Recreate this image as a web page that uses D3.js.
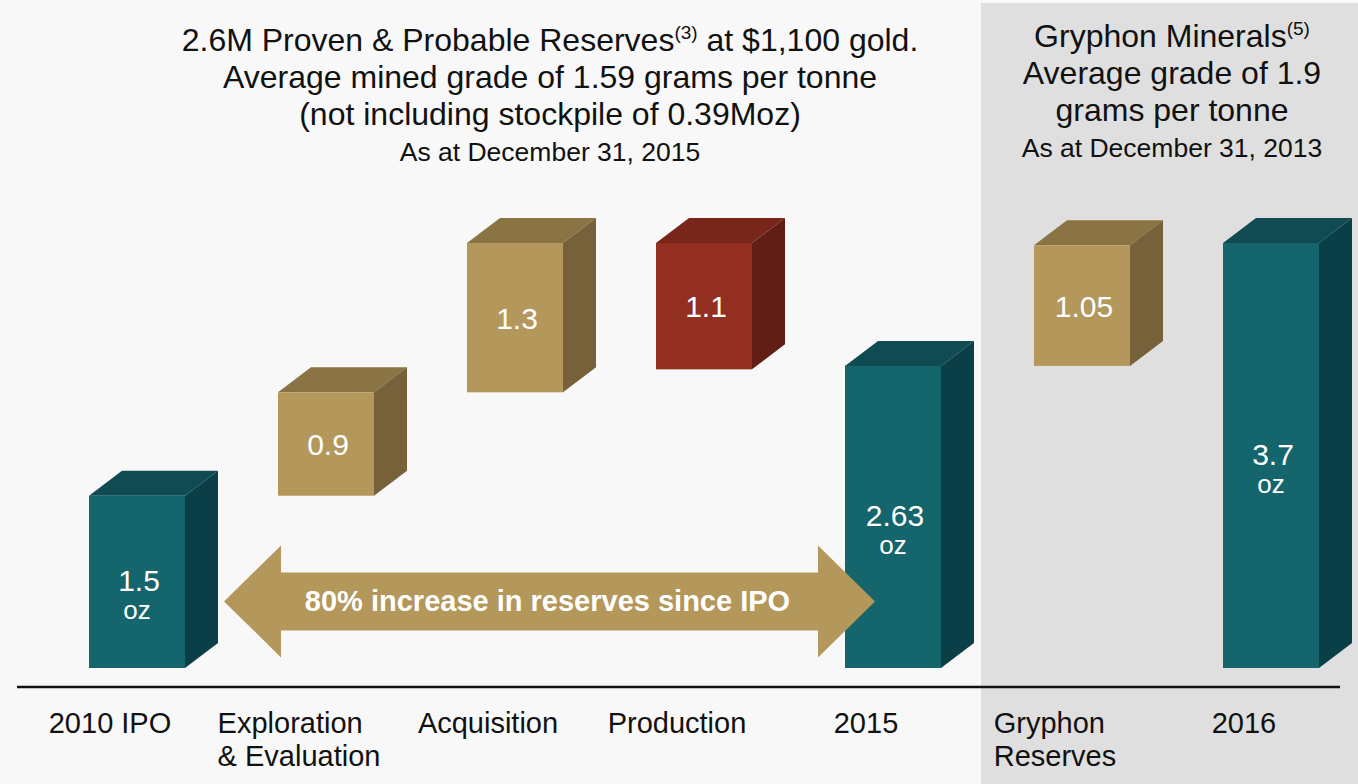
<!DOCTYPE html>
<html>
<head>
<meta charset="utf-8">
<script src="https://cdn.jsdelivr.net/npm/d3@7"></script>
<style>
  body { margin: 0; background: #f8f8f8; }
  svg { display: block; font-family: Arial, "Liberation Sans", sans-serif; }
</style>
</head>
<body>
<svg id="canvas" width="1358" height="784"></svg>
<script>
// chart data
let categories = ["2010 IPO", "Exploration", "Acquisition", "Production", "2015", "Gryphon", "2016"]
let catLabels = [["2010 IPO"], ["Exploration", "& Evaluation"], ["Acquisition"], ["Production"], ["2015"], ["Gryphon", "Reserves"], ["2016"]]
let values = [1.5, 0.9, 1.3, -1.1, 2.63, 1.05, 3.7]
let kinds = ["total", "gain", "gain", "loss", "total", "gain", "total"]
let valueLabels = ["1.5", "0.9", "1.3", "1.1", "2.63", "1.05", "3.7"]
let unitLabels = ["oz", "", "", "", "oz", "", "oz"]

let leftTitle = ["2.6M Proven & Probable Reserves", "Average mined grade of 1.59 grams per tonne", "(not including stockpile of 0.39Moz)", "As at December 31, 2015"]
let rightTitle = ["Gryphon Minerals", "Average grade of 1.9", "grams per tonne", "As at December 31, 2013"]
let arrowText = "80% increase in reserves since IPO"

let colors = {
    total: {front: "#15656d", top: "#104b53", side: "#0b3f48"},
    gain:  {front: "#b4975a", top: "#8a7444", side: "#77613a"},
    loss:  {front: "#922f21", top: "#782619", side: "#611e14"}
}

let canvas = d3.select("#canvas")

// running start / end for the waterfall
let running = 0
let bars = categories.map((c, i) => {
    let v = values[i]
    let start, end
    if (kinds[i] === "total") {
        start = 0
        end = v
    } else {
        start = running
        end = running + v
    }
    running = end
    return {cat: c, kind: kinds[i], lo: Math.min(start, end), hi: Math.max(start, end), label: valueLabels[i], unit: unitLabels[i], lines: catLabels[i]}
})

let x = d3.scaleBand()
    .domain(categories)
    .range([89, 1319])
    .paddingInner(0.492)
    .paddingOuter(0)

let y = d3.scaleLinear()
    .domain([0, 3.7])
    .range([668, 243])

let dx = 33, dy = 25
let bw = x.bandwidth()

// grey panel behind Gryphon + 2016
canvas.append("rect")
    .attr("x", 981).attr("y", 3)
    .attr("width", 1358 - 981).attr("height", 784)
    .attr("fill", "#dfdfdf")

// axis line
canvas.append("line")
    .attr("x1", 17).attr("x2", 1340)
    .attr("y1", 687).attr("y2", 687)
    .attr("stroke", "#111").attr("stroke-width", 2.5)

let blck = canvas.selectAll("g.bar")
    .data(bars)
    .enter()
    .append("g")
    .attr("class", "bar")
    .attr("transform", d => "translate(" + x(d.cat) + ",0)")

// top face
blck.append("path")
    .attr("d", d => {
        let t = y(d.hi)
        return "M0," + t + "L" + dx + "," + (t - dy) + "L" + (bw + dx) + "," + (t - dy) + "L" + bw + "," + t + "Z"
    })
    .attr("fill", d => colors[d.kind].top)

// side face
blck.append("path")
    .attr("d", d => {
        let t = y(d.hi), b = y(d.lo)
        return "M" + bw + "," + t + "L" + (bw + dx) + "," + (t - dy) + "L" + (bw + dx) + "," + (b - dy) + "L" + bw + "," + b + "Z"
    })
    .attr("fill", d => colors[d.kind].side)

// front face
blck.append("rect")
    .attr("x", 0)
    .attr("y", d => y(d.hi))
    .attr("width", bw)
    .attr("height", d => y(d.lo) - y(d.hi))
    .attr("fill", d => colors[d.kind].front)

blck.append("text")
    .text(d => d.label)
    .attr("x", bw / 2 + 2)
    .attr("y", d => (y(d.hi) + y(d.lo)) / 2 + (d.unit ? 9 : 11))
    .attr("text-anchor", "middle")
    .attr("fill", "#fff")
    .attr("font-size", 30)

blck.filter(d => d.unit !== "")
    .append("text")
    .text(d => d.unit)
    .attr("x", bw / 2)
    .attr("y", d => (y(d.hi) + y(d.lo)) / 2 + 37)
    .attr("text-anchor", "middle")
    .attr("fill", "#fff")
    .attr("font-size", 26)

// double arrow annotation
let ax0 = x("2010 IPO") + bw + dx + 6
let ax1 = x("2015") + 30
let ay = y(0.58)
let headW = 57, headH = 56, shaftH = 29
let arrowPath = "M" + ax0 + "," + ay +
    "L" + (ax0 + headW) + "," + (ay - headH) +
    "L" + (ax0 + headW) + "," + (ay - shaftH) +
    "L" + (ax1 - headW) + "," + (ay - shaftH) +
    "L" + (ax1 - headW) + "," + (ay - headH) +
    "L" + ax1 + "," + ay +
    "L" + (ax1 - headW) + "," + (ay + headH) +
    "L" + (ax1 - headW) + "," + (ay + shaftH) +
    "L" + (ax0 + headW) + "," + (ay + shaftH) +
    "L" + (ax0 + headW) + "," + (ay + headH) + "Z"
canvas.append("path")
    .attr("d", arrowPath)
    .attr("fill", "#b4975a")
canvas.append("text")
    .text(arrowText)
    .attr("x", (ax0 + ax1) / 2 - 2)
    .attr("y", ay + 10)
    .attr("text-anchor", "middle")
    .attr("fill", "#fff")
    .attr("font-weight", "bold")
    .attr("font-size", 29)

// category labels, block centred a bit left of the bar
let labels = canvas.selectAll("g.lab")
    .data(bars)
    .enter()
    .append("g")
    .attr("class", "lab")
labels.each(function(d) {
    let g = d3.select(this)
    let t = g.append("text").attr("font-size", 29).attr("fill", "#111")
    d.lines.forEach((ln, k) => {
        t.append("tspan").attr("x", 0).attr("y", 733 + k * 33).text(ln)
    })
    let w = t.node().getBBox().width
    g.attr("transform", "translate(" + (x(d.cat) + bw / 2 - 27 - w / 2) + ",0)")
})

// titles
let lt = canvas.append("text").attr("text-anchor", "middle").attr("fill", "#111")
let ltY = [51, 88, 125, 161]
let ltS = [32, 32, 32, 26.5]
leftTitle.forEach((ln, k) => {
    lt.append("tspan").attr("x", 550).attr("y", ltY[k]).attr("font-size", ltS[k]).text(ln)
})
lt.select("tspan").append("tspan").attr("font-size", 19).attr("dy", -12).text("(3)")
lt.select("tspan").append("tspan").attr("font-size", 32).attr("dy", 12).text(" at $1,100 gold.")

let rt = canvas.append("text").attr("text-anchor", "middle").attr("fill", "#111")
let rtY = [47, 84, 121, 157]
let rtS = [32, 32, 32, 26.5]
rightTitle.forEach((ln, k) => {
    rt.append("tspan").attr("x", 1172).attr("y", rtY[k]).attr("font-size", rtS[k]).text(ln)
})
rt.select("tspan").append("tspan").attr("font-size", 19).attr("dy", -12).text("(5)")
</script>
</body>
</html>
